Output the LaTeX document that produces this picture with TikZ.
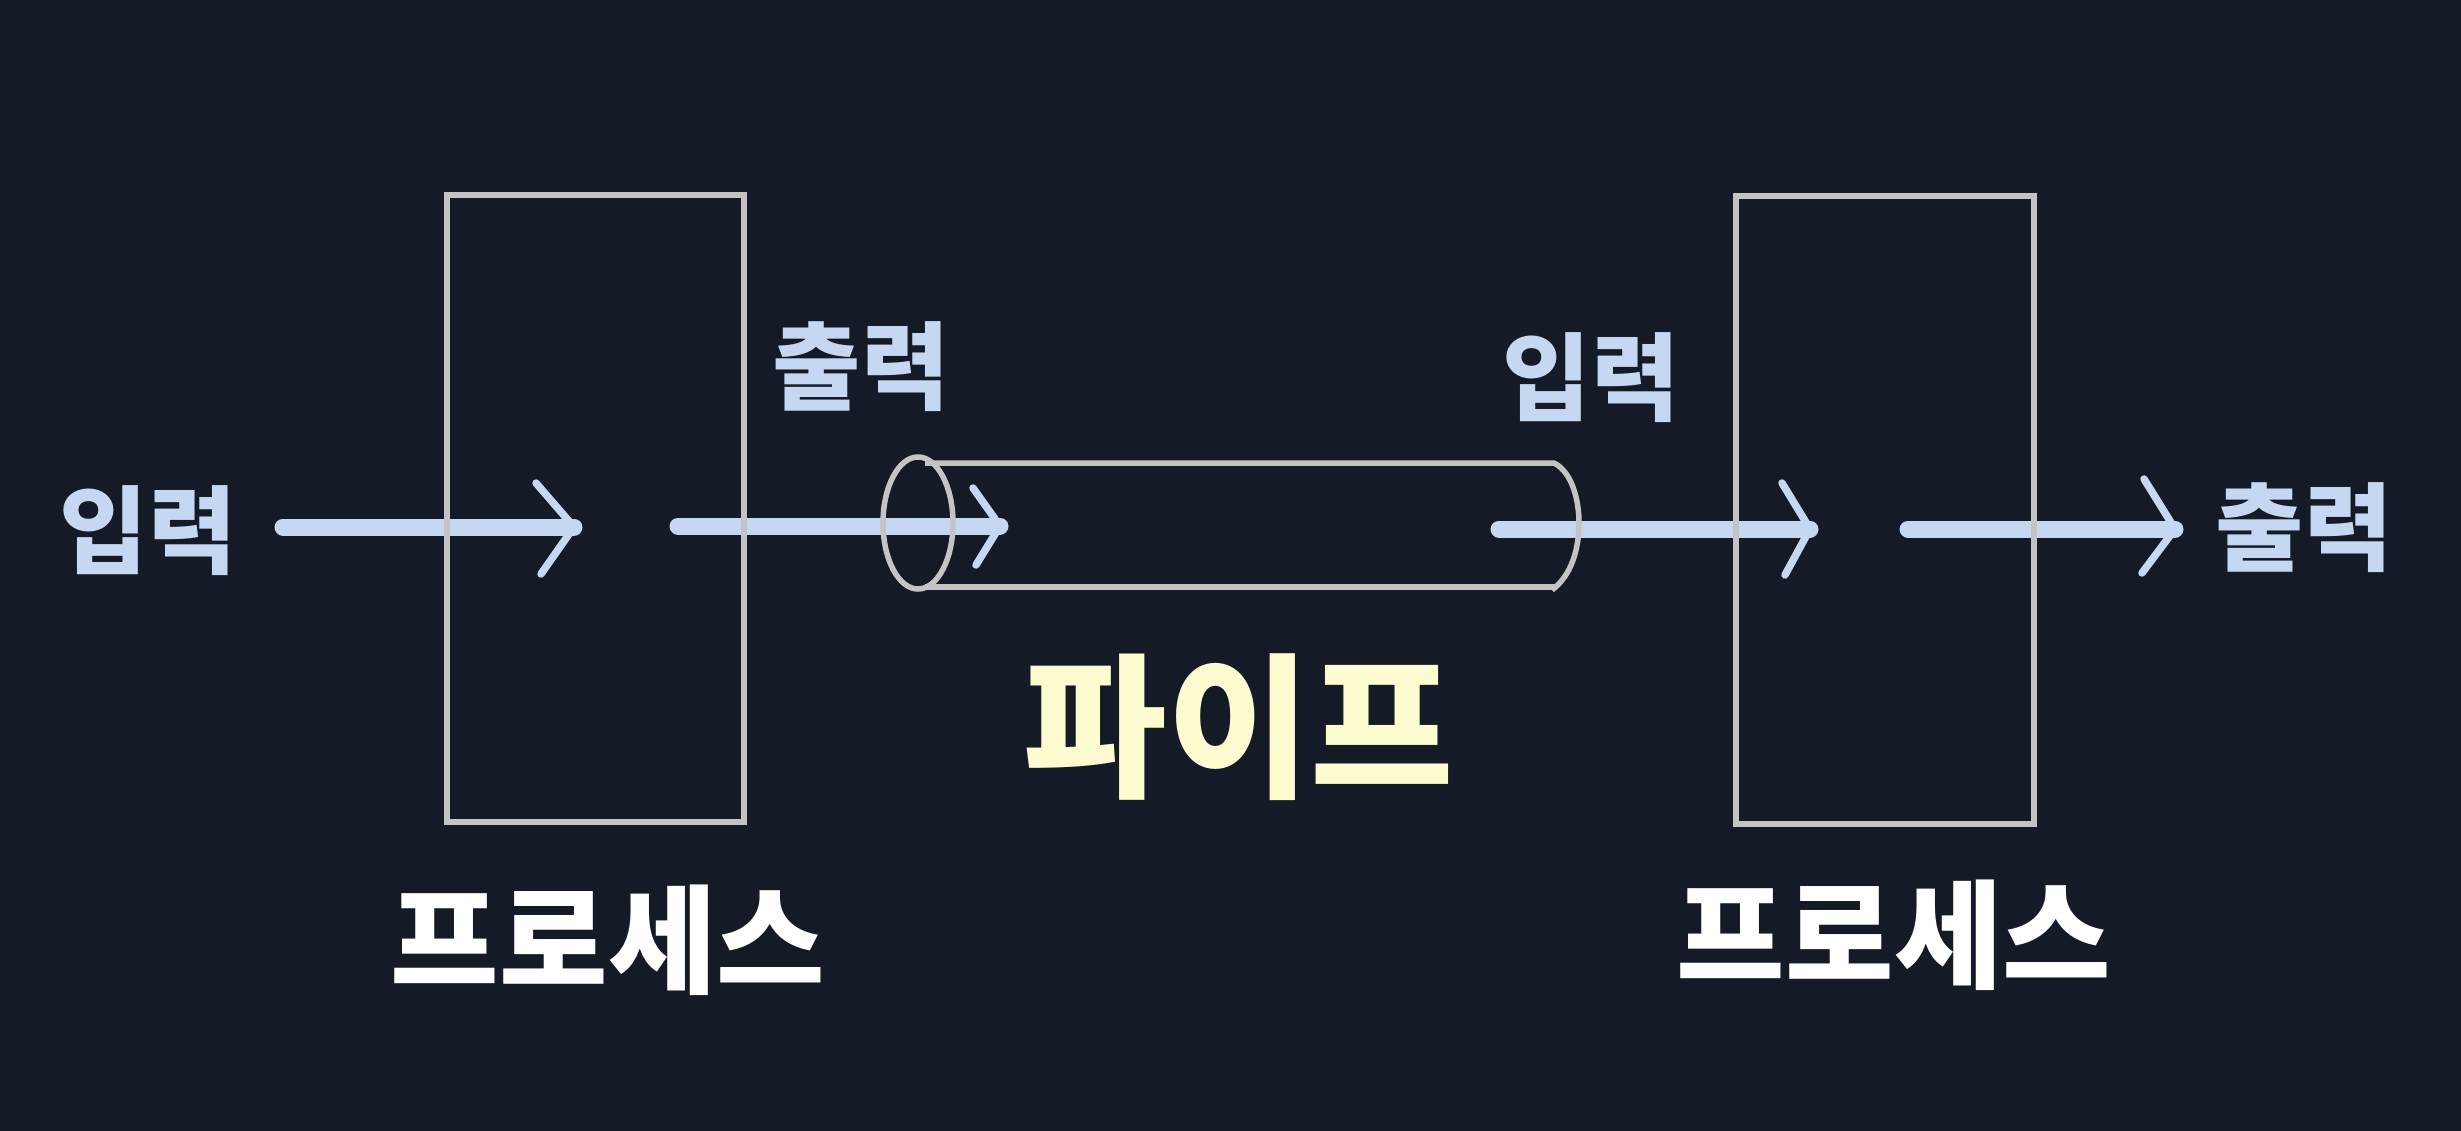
\documentclass[tikz,border=0pt]{standalone}
\usepackage{fontspec}
\newfontfamily\kr{Noto Sans CJK KR}
\usetikzlibrary{calc}
\definecolor{bg}{HTML}{141B26}
\definecolor{arr}{HTML}{C6D7F2}
\definecolor{edge}{HTML}{C4C4C4}
\definecolor{pipetxt}{HTML}{FDFBD0}
\begin{document}
\begin{tikzpicture}[x=1pt,y=-1pt,
  shaft/.style={draw=arr, line width=17pt, line cap=round},
  barb/.style={draw=arr, line width=7.5pt, line cap=round, line join=round},
  procbox/.style={draw=edge, line width=5.5pt, minimum width=297pt, minimum height=627pt, inner sep=0pt},
  pipeline/.style={draw=edge, line width=5.5pt},
  lbl/.style={font=\kr\bfseries\fontsize{96}{96}\selectfont, text=arr, inner sep=0pt},
  pipelbl/.style={font=\kr\bfseries\fontsize{156}{156}\selectfont, text=pipetxt, inner sep=0pt},
  proclbl/.style={font=\kr\bfseries\fontsize{118}{118}\selectfont, text=white, inner sep=0pt}]
\fill[bg] (0,0) rectangle (2461,1131);
\useasboundingbox (0,0) rectangle (2461,1131);

% arrow end points
\coordinate (a1s) at (283,527);  \coordinate (a1t) at (574,527);
\coordinate (a2s) at (678,526);  \coordinate (a2t) at (1000,526);
\coordinate (a3s) at (1499,529); \coordinate (a3t) at (1810,529);
\coordinate (a4s) at (1908,529); \coordinate (a4t) at (2175,529);

% arrows
\draw[shaft] (a1s) -- (a1t);
\draw[barb] ($(a1t)+(-38,-44)$) -- (a1t) -- ($(a1t)+(-33,47)$);
\draw[shaft] (a2s) -- (a2t);
\draw[barb] ($(a2t)+(-27,-38)$) -- (a2t) -- ($(a2t)+(-24,39)$);
\draw[shaft] (a3s) -- (a3t);
\draw[barb] ($(a3t)+(-28,-46)$) -- (a3t) -- ($(a3t)+(-25,46)$);
\draw[shaft] (a4s) -- (a4t);
\draw[barb] ($(a4t)+(-31,-50)$) -- (a4t) -- ($(a4t)+(-33,44)$);

% process boxes
\node[procbox] (p1) at (595.5,508.5) {};
\node[procbox, minimum width=298pt, minimum height=628pt] (p2) at (1885,510) {};

% pipe
\coordinate (pipeL) at (918,523);
\draw[pipeline] (pipeL) ellipse [x radius=35pt, y radius=66pt];
\draw[pipeline] (925,463) -- (1554,463)
  .. controls (1572,472) and (1579,500) .. (1579,523)
  .. controls (1579,548) and (1572,575) .. (1552,590);
\draw[pipeline] (925,587) -- (1556,587);

% labels
\node[lbl] (in1) at (148,531) {입력};
\node[lbl] (out1) at (861,367) {출력};
\node[lbl] (in2) at (1591,378) {입력};
\node[lbl] (out2) at (2304,528) {출력};
\node[pipelbl] (pipe) at (1239,727) {파이프};
\node[proclbl] (pl1) at (608,940) {프로세스};
\node[proclbl] (pl2) at (1894,935) {프로세스};
\end{tikzpicture}
\end{document}
